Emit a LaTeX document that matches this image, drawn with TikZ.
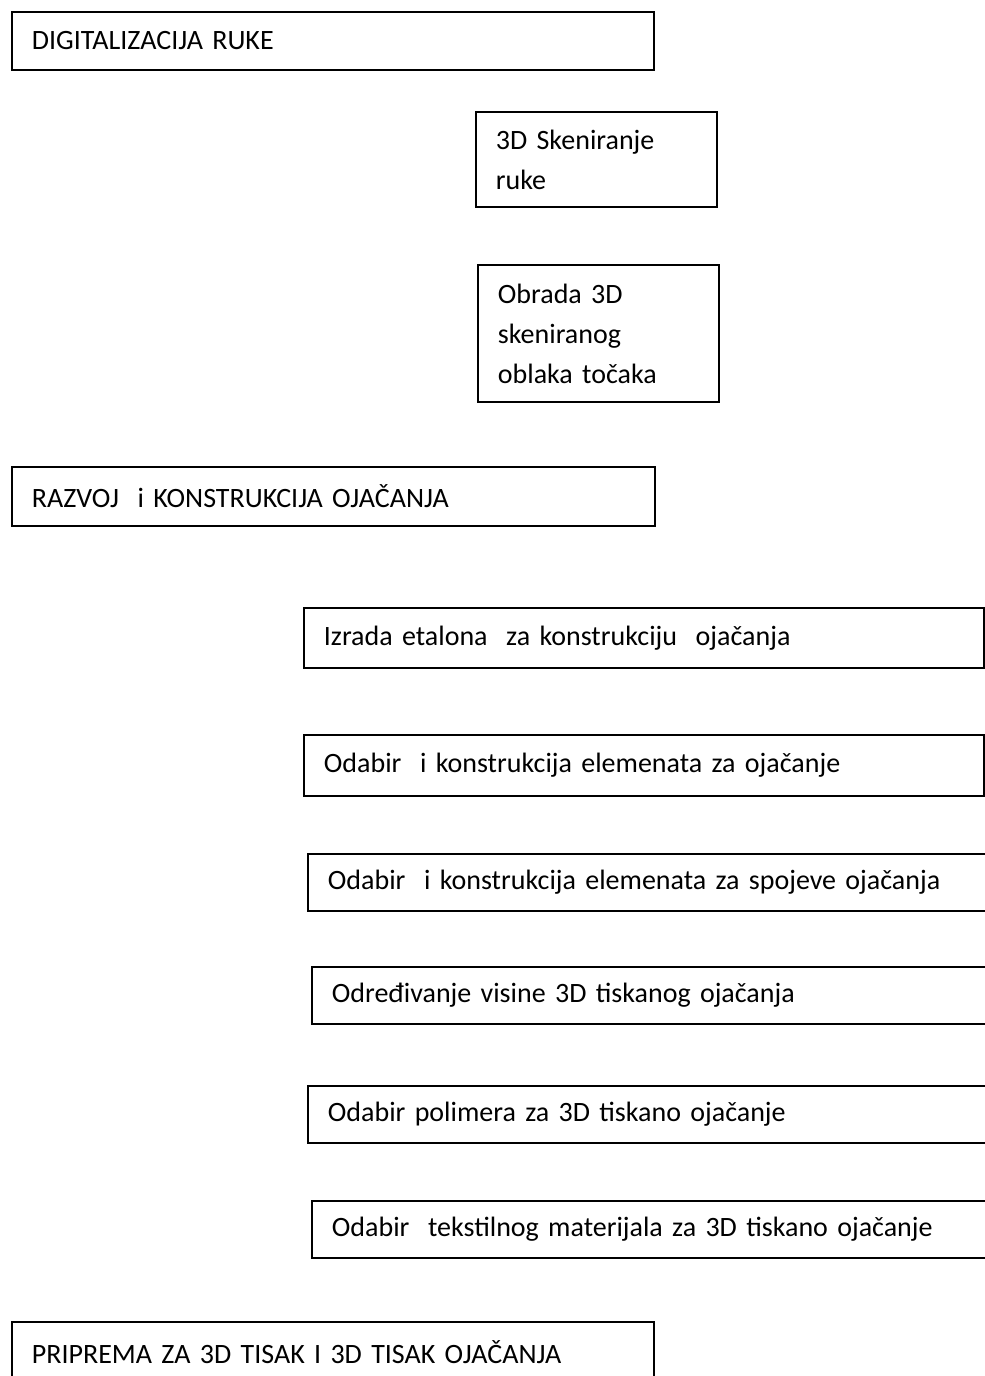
\documentclass[tikz,border=0pt]{standalone}
\usepackage{fontspec}
\setmainfont{Carlito}
\usetikzlibrary{positioning}

\begin{document}
\begin{tikzpicture}[x=0.5pt,y=-0.5pt,
  box/.style={draw,line width=0.9pt,anchor=north west,align=left,inner xsep=10pt,
    font=\fontsize{14}{20}\selectfont},
  narrow/.style={box,text width=#1*0.5pt-20pt}]
\useasboundingbox (0,0) rectangle (985,1376);
% digitalizacija
\node[narrow=642,minimum height=29pt] (dig) at (11,11) {DIGITALIZACIJA RUKE};
\node[narrow=241,minimum height=47.5pt] (sken) at (475,111) {3D Skeniranje\\ruke};
\node[narrow=241,minimum height=68.5pt] (obr) at (477,264) {Obrada 3D\\skeniranog\\oblaka točaka};
% razvoj
\node[narrow=643,minimum height=29.5pt] (raz) at (11,466) {RAZVOJ\ \ i KONSTRUKCIJA OJAČANJA};
\node[narrow=680,minimum height=30pt] (etal) at (303,607) {Izrada etalona\ \ za konstrukciju\ \ ojačanja};
\node[narrow=680,minimum height=30.5pt] (elem) at (303,734) {Odabir\ \ i konstrukcija elemenata za ojačanje};
\node[narrow=700,minimum height=28.5pt] (spoj) at (307,853) {Odabir\ \ i konstrukcija elemenata za spojeve ojačanja};
\node[narrow=700,minimum height=28.5pt] (vis) at (311,966) {Određivanje visine 3D tiskanog ojačanja};
\node[narrow=700,minimum height=28.5pt] (pol) at (307,1085) {Odabir polimera za 3D tiskano ojačanje};
\node[narrow=700,minimum height=28.5pt] (tek) at (311,1200) {Odabir\ \ tekstilnog materijala za 3D tiskano ojačanje};
% priprema
\node[narrow=642,minimum height=30pt] (prip) at (11,1321) {PRIPREMA ZA 3D TISAK I 3D TISAK OJAČANJA};
\end{tikzpicture}
\end{document}
